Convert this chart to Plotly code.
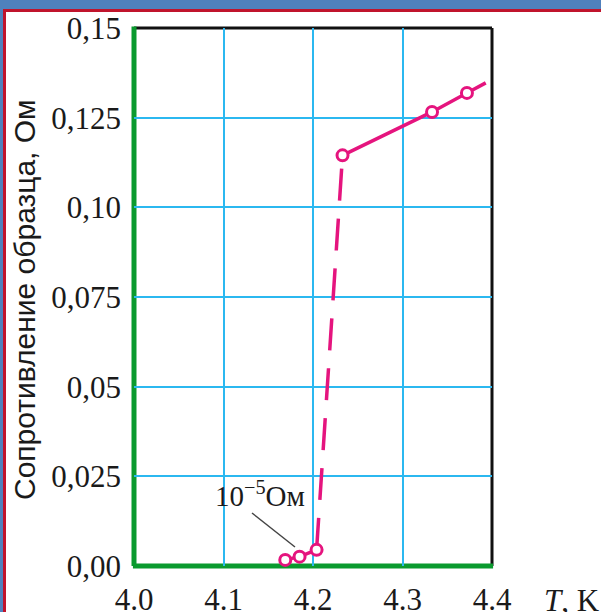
import plotly.graph_objects as go

# ---- data ----
T_meas = [4.169, 4.185, 4.204, 4.233, 4.333, 4.372]          # K
R_meas = [0.0017, 0.0026, 0.0045, 0.1145, 0.1266, 0.1319]    # Ohm
T_tail = [4.372, 4.393]                                      # curve continues past last point
R_tail = [0.1319, 0.1347]

x_ticks = [4.0, 4.1, 4.2, 4.3, 4.4]
x_labels = ["4.0", "4.1", "4.2", "4.3", "4.4"]
y_ticks = [0.0, 0.025, 0.05, 0.075, 0.10, 0.125, 0.15]
y_labels = ["0,00", "0,025", "0,05", "0,075", "0,10", "0,125", "0,15"]

PINK = "#e5147e"
GRID = "#2bb8f0"
GREEN = "#0a9a2e"
SERIF = "Liberation Serif, Times New Roman, serif"
SANS = "Liberation Sans, Arial, sans-serif"

W, H = 601, 612
L, R_, T_, B = 134, 109, 28, 46
pw, ph = W - L - R_, H - T_ - B


def px_x(p):
    return (p - L) / pw


def px_y(p):
    return (H - B - p) / ph


fig = go.Figure()

# normal-state branch (solid)
fig.add_trace(go.Scatter(x=T_meas[3:], y=R_meas[3:], mode="lines",
                         line=dict(color=PINK, width=3.5), cliponaxis=False,
                         hoverinfo="skip", showlegend=False))
fig.add_trace(go.Scatter(x=T_tail, y=R_tail, mode="lines",
                         line=dict(color=PINK, width=3.5), cliponaxis=False,
                         hoverinfo="skip", showlegend=False))
# transition (dashed)
fig.add_trace(go.Scatter(x=T_meas[2:4], y=R_meas[2:4], mode="lines",
                         line=dict(color=PINK, width=3.5, dash="32px,18px"),
                         cliponaxis=False, hoverinfo="skip", showlegend=False))
# superconducting branch (solid)
fig.add_trace(go.Scatter(x=T_meas[:3], y=R_meas[:3], mode="lines",
                         line=dict(color=PINK, width=3.5), cliponaxis=False,
                         hoverinfo="skip", showlegend=False))
# markers
fig.add_trace(go.Scatter(x=T_meas, y=R_meas, mode="markers",
                         marker=dict(symbol="circle", size=11, color="white",
                                     line=dict(color=PINK, width=3)),
                         cliponaxis=False, showlegend=False, hoverinfo="skip"))

shapes = []
# plot frame
shapes.append(dict(type="line", xref="paper", yref="paper", x0=0, x1=1, y0=1, y1=1,
                   line=dict(color="#111111", width=3), layer="between"))
shapes.append(dict(type="line", xref="paper", yref="paper", x0=1, x1=1, y0=0, y1=1,
                   line=dict(color="#111111", width=3), layer="between"))
shapes.append(dict(type="line", xref="paper", yref="paper", x0=0, x1=0, y0=0, y1=1.003,
                   line=dict(color=GREEN, width=5), layer="between"))
shapes.append(dict(type="line", xref="paper", yref="paper", x0=-0.003, x1=1.003, y0=0, y1=0,
                   line=dict(color=GREEN, width=5), layer="between"))
# leader line of the 10^-5 label
shapes.append(dict(type="line", xref="paper", yref="paper",
                   x0=px_x(252), y0=px_y(513), x1=px_x(295), y1=px_y(547),
                   line=dict(color="#444444", width=1.5), layer="above"))
# window frame (blue title bar, red border)
shapes.append(dict(type="rect", xref="paper", yref="paper",
                   x0=px_x(-2), x1=px_x(603), y0=px_y(9), y1=px_y(-2),
                   fillcolor="#4f81bd", line=dict(width=0), layer="above"))
shapes.append(dict(type="rect", xref="paper", yref="paper",
                   x0=px_x(3), x1=px_x(603), y0=px_y(12), y1=px_y(9),
                   fillcolor="#c0142c", line=dict(width=0), layer="above"))
shapes.append(dict(type="rect", xref="paper", yref="paper",
                   x0=px_x(-2), x1=px_x(3), y0=px_y(614), y1=px_y(9),
                   fillcolor="#4f81bd", line=dict(width=0), layer="above"))
shapes.append(dict(type="rect", xref="paper", yref="paper",
                   x0=px_x(3), x1=px_x(6), y0=px_y(614), y1=px_y(9),
                   fillcolor="#c0142c", line=dict(width=0), layer="above"))

annotations = [
    dict(text="Сопротивление образца, Ом", xref="paper", yref="paper",
         x=px_x(24), y=px_y(300), textangle=-90, showarrow=False,
         xanchor="center", yanchor="middle",
         font=dict(family=SANS, size=30, color="#1a1a1a")),
    dict(text="<i>T</i>, K", xref="paper", yref="paper",
         x=px_x(542), y=px_y(600), showarrow=False, xanchor="left", yanchor="middle",
         font=dict(family=SERIF, size=31, color="#1a1a1a")),
    dict(text="10<sup>−5</sup>Ом", xref="paper", yref="paper",
         x=px_x(213), y=px_y(514), showarrow=False, xanchor="left", yanchor="bottom",
         font=dict(family=SERIF, size=29, color="#1a1a1a")),
]

fig.update_layout(
    width=W, height=H,
    margin=dict(l=L, r=R_, t=T_, b=B, pad=0, autoexpand=False),
    paper_bgcolor="white", plot_bgcolor="white",
    shapes=shapes, annotations=annotations, showlegend=False,
    hovermode=False,
)
fig.update_xaxes(range=[4.0, 4.4], tickvals=x_ticks, ticktext=x_labels,
                 showgrid=True, gridcolor=GRID, gridwidth=2, zeroline=False,
                 showline=False, ticks="", ticklabelstandoff=12, automargin=False,
                 tickfont=dict(family=SERIF, size=31, color="#1a1a1a"))
fig.update_yaxes(range=[0, 0.15], tickvals=y_ticks, ticktext=y_labels,
                 showgrid=True, gridcolor=GRID, gridwidth=2, zeroline=False,
                 showline=False, ticks="", ticklabelstandoff=12, automargin=False,
                 tickfont=dict(family=SERIF, size=31, color="#1a1a1a"))

fig.write_html("out.html", config={"displayModeBar": False, "staticPlot": True},
               post_script="document.body.style.margin='0';document.body.style.overflow='hidden';")
